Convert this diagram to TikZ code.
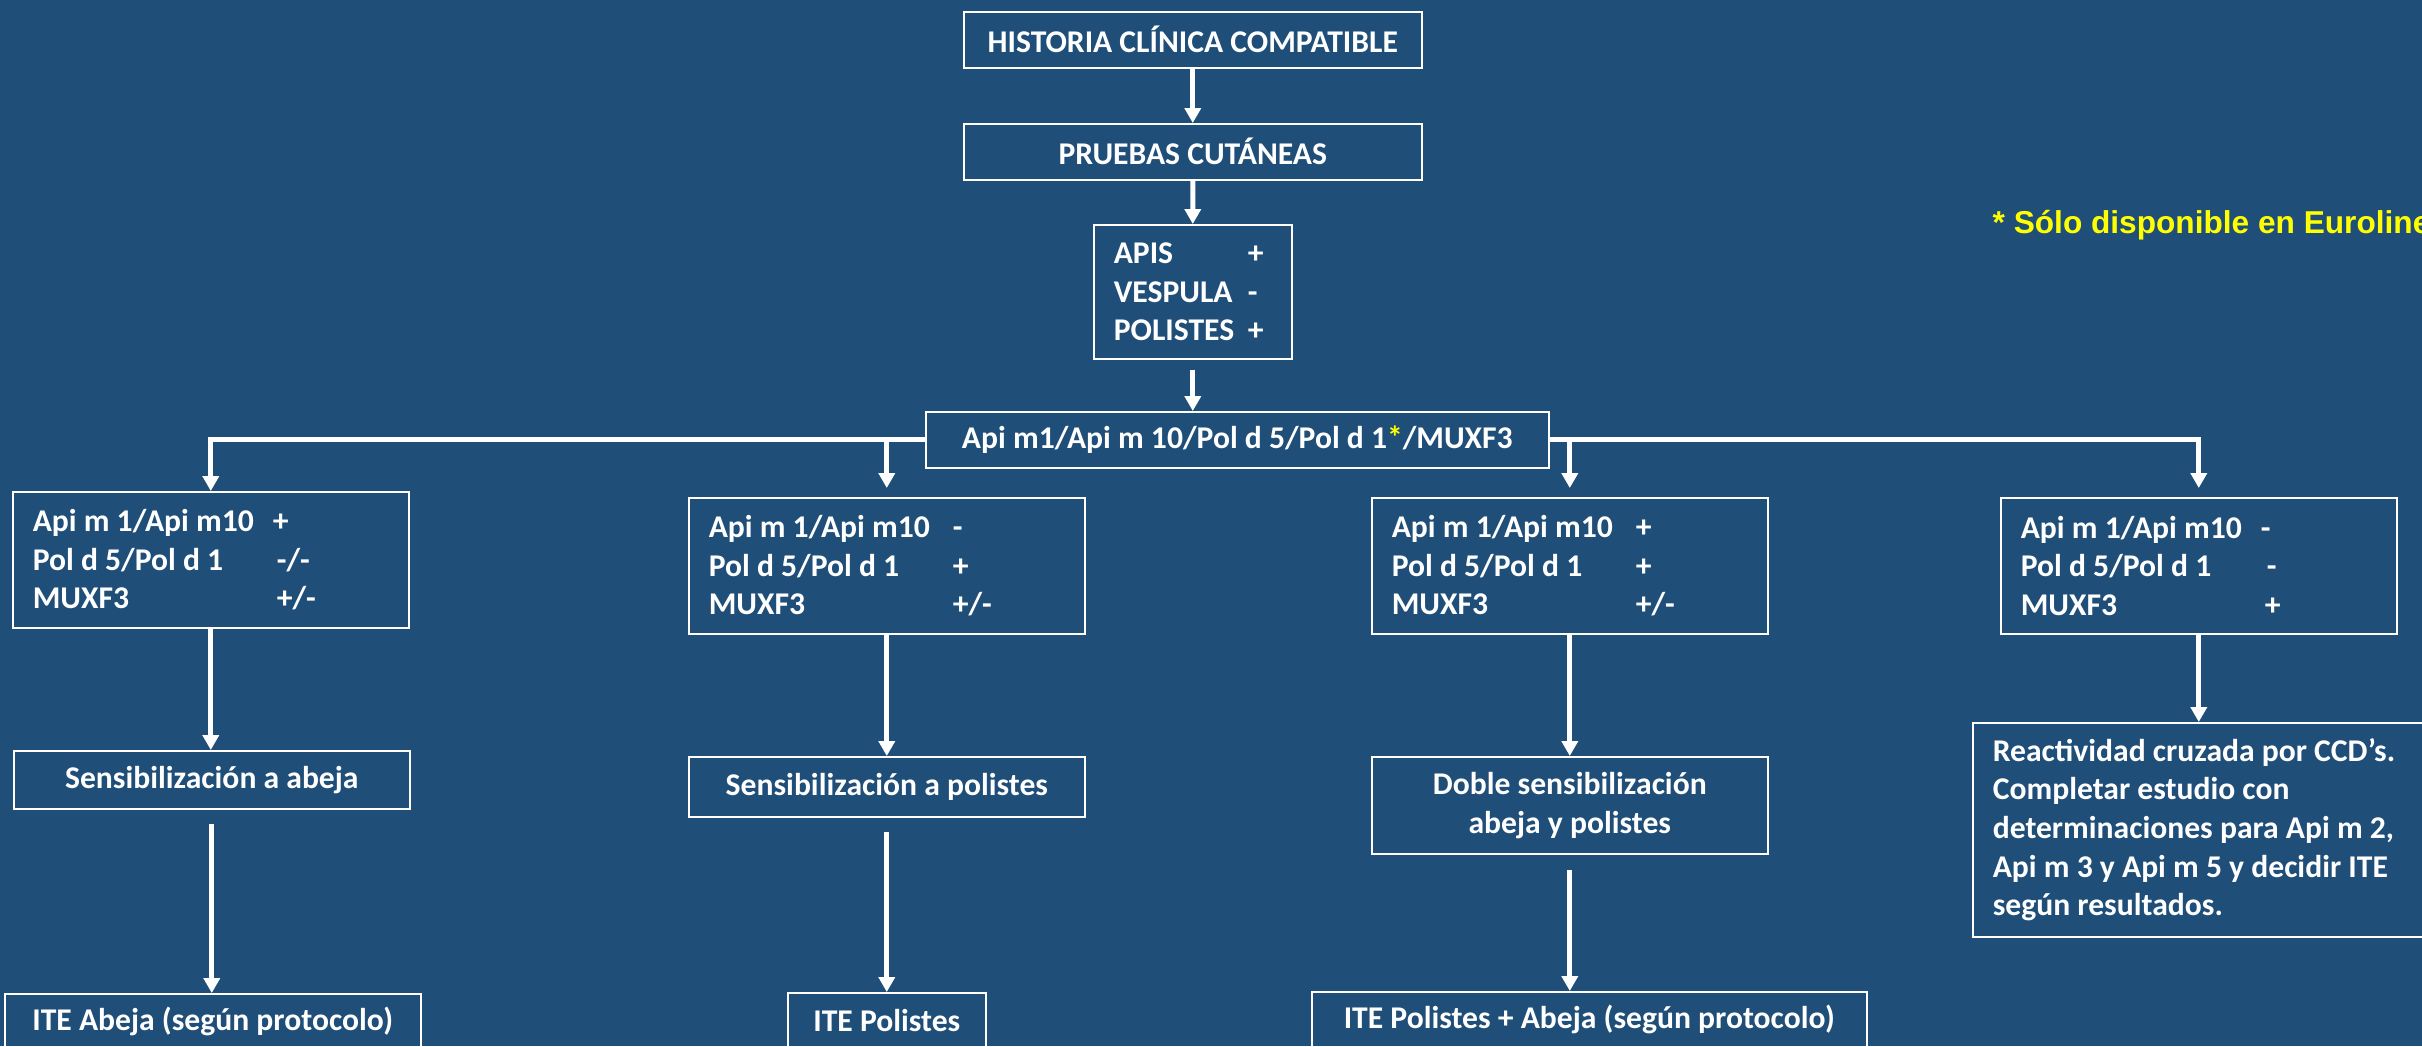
\documentclass[tikz,border=0pt]{standalone}
\usepackage{fontspec}
\setmainfont{Carlito}
\newfontfamily\notefont{Liberation Sans}
\usetikzlibrary{arrows.meta}

\definecolor{slide}{HTML}{1F4E79}
\definecolor{note}{HTML}{FFFF00}

% one result line: label, then its sign at a fixed tab
\newcommand\resrow[3][24.4mm]{\makebox[#1][l]{#2}#3}

\tikzset{
    box/.style  = {draw = white, line width = 0.45pt, text = white, anchor = north west,
                   inner sep = 0pt, font = \fontsize{9}{11}\selectfont\bfseries},
    list/.style = {box, align = flush left, inner xsep = 2mm},
    wire/.style = {draw = white, line width = 0.5mm, -{Triangle[width = 1.6mm, length = 1.5mm]}},
}

\begin{document}
\begin{tikzpicture}[x = 0.1mm, y = -0.1mm]

    % slide
    \useasboundingbox (0, 0) rectangle (2422, 1046);
    \clip (0, 0) rectangle (2422, 1046);
    \path [fill = slide] (0, 0) rectangle (2422, 1046);

    % footnote
    \node [anchor = west, inner sep = 0pt, text = note, font = \notefont\bfseries\fontsize{9}{11}\selectfont]
        (foot) at (1992, 225) {* Sólo disponible en Euroline};

    % main column
    \node [box, minimum width = 45.8mm, minimum height = 5.6mm] (historia) at (963, 11) {HISTORIA CLÍNICA COMPATIBLE};
    \node [box, minimum width = 45.8mm, minimum height = 5.6mm] (pruebas) at (963, 123) {PRUEBAS CUTÁNEAS};
    \node [list, text width = 15.8mm, minimum height = 13.4mm] (apis) at (1093, 224)
        {\resrow[13.4mm]{APIS}{+}\\ \resrow[13.4mm]{VESPULA}{-}\\ \resrow[13.4mm]{POLISTES}{+}};
    \node [box, minimum width = 62.3mm, minimum height = 5.6mm] (api) at (925, 411)
        {Api m1/Api m 10/Pol d 5/Pol d 1\textcolor{note}{*}/MUXF3};

    % results
    \node [list, text width = 35.6mm, minimum height = 13.6mm] (l1) at (12, 491)
        {\resrow[24.0mm]{Api m 1/Api m10}{+}\\ \resrow{Pol d 5/Pol d 1}{-/-}\\ \resrow{MUXF3}{+/-}};
    \node [list, text width = 35.6mm, minimum height = 13.6mm] (l2) at (688, 497)
        {\resrow{Api m 1/Api m10}{-}\\ \resrow{Pol d 5/Pol d 1}{+}\\ \resrow{MUXF3}{+/-}};
    \node [list, text width = 35.6mm, minimum height = 13.6mm] (l3) at (1371, 497)
        {\resrow{Api m 1/Api m10}{+}\\ \resrow{Pol d 5/Pol d 1}{+}\\ \resrow{MUXF3}{+/-}};
    \node [list, text width = 35.6mm, minimum height = 13.6mm] (l4) at (2000, 497)
        {\resrow[24.0mm]{Api m 1/Api m10}{-}\\ \resrow[24.6mm]{Pol d 5/Pol d 1}{-}\\ \resrow{MUXF3}{+}};

    % diagnosis
    \node [box, minimum width = 39.6mm, minimum height = 5.8mm] (s1) at (13, 750) {Sensibilización a abeja};
    \node [box, minimum width = 39.6mm, minimum height = 6.0mm] (s2) at (688, 756) {Sensibilización a polistes};
    \node [box, align = center, minimum width = 39.6mm, minimum height = 9.7mm] (s3) at (1371, 756)
        {Doble sensibilización\\ abeja y polistes};
    \node [list, text width = 42.8mm, minimum height = 21.4mm] (s4) at (1972, 722)
        {Reactividad cruzada por CCD’s.\\ Completar estudio con\\ determinaciones para Api m 2,\\
         Api m 3 y Api m 5 y decidir ITE\\ según resultados.};

    % treatment
    \node [box, minimum width = 41.6mm, minimum height = 5.6mm] (t1) at (4, 993) {ITE Abeja (según protocolo)};
    \node [box, minimum width = 19.8mm, minimum height = 5.6mm] (t2) at (787, 992) {ITE Polistes};
    \node [box, minimum width = 55.5mm, minimum height = 5.6mm] (t3) at (1311, 991) {ITE Polistes + Abeja (según protocolo)};

    % arrows
    \draw [wire] (historia) -- (pruebas);
    \draw [wire] (pruebas) -- (apis);
    \draw [wire, shorten < = 1mm] (apis.south) -- (apis.south |- api.north);

    \draw [wire] (api.west) -| (l1.north);
    \draw [wire, shorten > = 0.9mm] (api.east) -| (l4.north);
    \draw [wire, shorten > = 0.9mm] (l2.north |- api.west) -- (l2.north);
    \draw [wire, shorten > = 0.9mm] (l3.north |- api.west) -- (l3.north);

    \draw [wire] (l1.south) -- (l1.south |- s1.north);
    \draw [wire] (l2.south) -- (l2.south |- s2.north);
    \draw [wire] (l3.south) -- (l3.south |- s3.north);
    \draw [wire] (l4.south) -- (l4.south |- s4.north);

    \draw [wire, shorten < = 1.4mm] (s1.south) -- (s1.south |- t1.north);
    \draw [wire, shorten < = 1.4mm] (s2.south) -- (s2.south |- t2.north);
    \draw [wire, shorten < = 1.5mm] (s3.south) -- (s3.south |- t3.north);

\end{tikzpicture}
\end{document}
